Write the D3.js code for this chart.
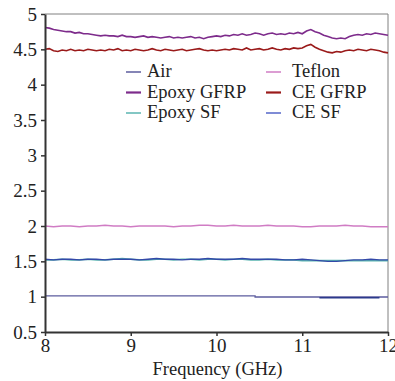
<!DOCTYPE html>
<html>
<head>
<meta charset="utf-8">
<script src="https://cdn.jsdelivr.net/npm/d3@7"></script>
<style>
  body { margin: 0; background: #fff; }
  text { font-family: "Liberation Serif", "Times New Roman", serif; }
</style>
</head>
<body>
<div id="chart"></div>
<script>
// frequency grid (GHz)
var fStart = 8, fEnd = 12;
var xTicks = [8, 9, 10, 11, 12];
var yTicks = [0.5, 1, 1.5, 2, 2.5, 3, 3.5, 4, 4.5, 5];

// 0.05 GHz step series
var epoxyGFRP = [4.81,4.80,4.78,4.77,4.76,4.75,4.75,4.73,4.74,4.72,4.72,4.71,4.70,4.69,4.70,4.69,4.69,4.68,4.70,4.68,
                 4.68,4.67,4.68,4.69,4.67,4.68,4.67,4.66,4.67,4.68,4.66,4.67,4.66,4.67,4.68,4.66,4.67,4.65,4.67,4.68,
                 4.69,4.68,4.70,4.69,4.71,4.70,4.72,4.70,4.71,4.73,4.72,4.70,4.72,4.73,4.71,4.72,4.71,4.73,4.72,4.74,
                 4.72,4.76,4.78,4.75,4.73,4.70,4.68,4.66,4.65,4.66,4.65,4.68,4.70,4.71,4.70,4.72,4.71,4.73,4.72,4.71,4.70];
var ceGFRP = [4.50,4.51,4.48,4.47,4.49,4.48,4.50,4.48,4.49,4.48,4.50,4.49,4.48,4.49,4.48,4.50,4.49,4.51,4.48,4.49,
              4.48,4.50,4.49,4.48,4.49,4.51,4.49,4.48,4.50,4.49,4.48,4.49,4.50,4.48,4.49,4.50,4.51,4.49,4.48,4.49,
              4.48,4.49,4.50,4.49,4.51,4.50,4.49,4.52,4.49,4.50,4.51,4.49,4.50,4.52,4.50,4.49,4.51,4.50,4.52,4.51,
              4.52,4.55,4.57,4.53,4.50,4.48,4.46,4.45,4.47,4.46,4.48,4.49,4.48,4.50,4.49,4.48,4.50,4.49,4.48,4.46,4.45];

// 0.1 GHz step series
var teflon = [2.00,1.99,2.00,2.00,1.99,2.00,2.00,2.01,2.00,2.00,1.99,2.00,2.00,2.00,2.00,1.99,2.00,2.00,2.01,2.01,
              2.00,2.00,2.01,2.00,2.00,2.00,2.01,2.00,2.00,2.00,1.99,1.99,2.00,2.00,2.00,2.01,2.00,2.00,1.99,1.99,1.99];
var epoxySF = [1.52,1.52,1.53,1.52,1.52,1.53,1.52,1.52,1.53,1.54,1.53,1.52,1.52,1.53,1.53,1.52,1.53,1.53,1.52,1.53,
               1.53,1.52,1.53,1.53,1.52,1.52,1.53,1.52,1.52,1.52,1.51,1.51,1.51,1.51,1.51,1.51,1.51,1.51,1.51,1.51,1.51];
var ceSF = [1.53,1.52,1.53,1.53,1.52,1.53,1.53,1.52,1.53,1.53,1.53,1.52,1.53,1.54,1.53,1.53,1.52,1.53,1.53,1.54,
            1.53,1.53,1.53,1.54,1.53,1.53,1.53,1.53,1.52,1.52,1.53,1.52,1.51,1.50,1.50,1.51,1.52,1.52,1.53,1.52,1.52];

// air: two flat pieces
var airFreq = [8, 10.45, 10.45, 12];
var airValues = [1.01, 1.01, 0.995, 0.995];
var airDarkFreq = [11.2, 11.9];
var airDarkValues = [0.985, 0.985];

var names = ["Air", "Epoxy GFRP", "Epoxy SF", "Teflon", "CE GFRP", "CE SF"];
var colors = ["#5c5c9e", "#7d2b8b", "#5ab5b0", "#d07cc4", "#9a1a1a", "#5566c8"];

function init() {
    var w = 395, h = 381;
    var margin = {top: 14, right: 7, bottom: 49, left: 45};
    var iw = w - margin.left - margin.right;
    var ih = h - margin.top - margin.bottom;

    var svg = d3.select("#chart").append("svg")
                .attr("width", w)
                .attr("height", h);

    var g = svg.append("g")
               .attr("transform", "translate(" + margin.left + "," + margin.top + ")");

    var x = d3.scaleLinear().domain([fStart, fEnd]).range([0, iw]);
    var y = d3.scaleLinear().domain([0.5, 5]).range([ih, 0]);

    // frame (top + right)
    g.append("path")
     .attr("d", "M0,0H" + iw + "V" + ih)
     .attr("fill", "none")
     .attr("stroke", "#808080")
     .attr("stroke-width", 1);

    var line = d3.line()
                 .x(function(d) { return x(d[0]); })
                 .y(function(d) { return y(d[1]); });

    function pairs(step, vals) {
        return vals.map(function(v, i) { return [fStart + i * step, v]; });
    }
    function pairsXY(xs, vs) {
        return xs.map(function(v, i) { return [v, vs[i]]; });
    }

    var series = [
        {d: pairsXY(airFreq, airValues), c: colors[0], w: 1.3},
        {d: pairsXY(airDarkFreq, airDarkValues), c: "#2b3a8c", w: 1.6},
        {d: pairs(0.1, epoxySF), c: colors[2], w: 1.6},
        {d: pairs(0.1, ceSF), c: "#3348a8", w: 1.4},
        {d: pairs(0.1, teflon), c: colors[3], w: 1.4},
        {d: pairs(0.05, ceGFRP), c: colors[4], w: 1.6},
        {d: pairs(0.05, epoxyGFRP), c: colors[1], w: 1.6}
    ];

    g.selectAll("path.series")
     .data(series)
     .enter()
     .append("path")
     .attr("class", "series")
     .attr("fill", "none")
     .attr("stroke", function(d) { return d.c; })
     .attr("stroke-width", function(d) { return d.w; })
     .attr("d", function(d) { return line(d.d); });

    // axes
    var xAxis = g.append("g")
                 .attr("transform", "translate(0," + ih + ")")
                 .call(d3.axisBottom(x).tickValues(xTicks).tickSize(4).tickSizeOuter(0).tickFormat(d3.format("")));
    var yAxis = g.append("g")
                 .call(d3.axisLeft(y).tickValues(yTicks).tickSize(4).tickSizeOuter(0).tickFormat(d3.format("")));

    [xAxis, yAxis].forEach(function(a) {
        a.select(".domain").attr("stroke", "#333").attr("stroke-width", 2);
        a.selectAll(".tick line").attr("stroke", "#333").attr("stroke-width", 1.5);
        a.selectAll(".tick text")
         .attr("fill", "#222")
         .style("font-family", "'Liberation Serif', serif")
         .style("font-size", "19px");
    });
    yAxis.selectAll(".tick text").attr("x", -8);

    svg.append("text")
       .attr("x", margin.left + iw / 2 + 1)
       .attr("y", 375)
       .attr("text-anchor", "middle")
       .attr("fill", "#222")
       .style("font-size", "18.5px")
       .text("Frequency (GHz)");

    // legend
    var legend = svg.append("g");
    var cols = [{lx: 126, tx: 147}, {lx: 266, tx: 292}];
    var rows = [77, 97.5, 118];
    names.forEach(function(n, i) {
        var c = cols[Math.floor(i / 3)];
        var by = rows[i % 3];
        legend.append("line")
              .attr("x1", c.lx).attr("x2", c.lx + 15)
              .attr("y1", by - 5).attr("y2", by - 5)
              .attr("stroke", colors[i])
              .attr("stroke-width", (n.indexOf("GFRP") >= 0) ? 2.2 : 1.5);
        legend.append("text")
              .attr("x", c.tx)
              .attr("y", by)
              .attr("fill", "#222")
              .style("font-size", "18.5px")
              .text(n);
    });
}
window.onload = init;
</script>
</body>
</html>
